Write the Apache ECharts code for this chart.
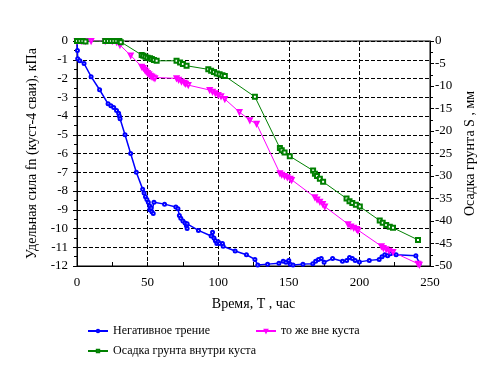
<!DOCTYPE html>
<html><head><meta charset="utf-8">
<script src="https://cdn.jsdelivr.net/npm/echarts@6/dist/echarts.min.js"></script>
<style>html,body{margin:0;padding:0;background:#fff}#c{width:488px;height:366px}</style>
</head><body><div id="c"></div>
<script>
const blueT = [0,0.3,0.5,2,5,10,16,22,24,26,28,29.5,30,30.5,34,38,42,46.5,47.5,48.5,49.5,50.5,51.5,51.5,52.5,53,54,54.5,62,70,71.5,72.5,73.5,75,76.5,77.5,78,78,86,95,96,97,98,99,100,101,103,103.5,112,120,126,128,135,143,146,148,150,151,153,160,167,169,171,173,175,181,188,191,193,195,197,200,207,214,216,218,220,222,226,240,242.5];
const blueF = [0,-0.5,-0.95,-1.05,-1.2,-1.9,-2.6,-3.35,-3.45,-3.55,-3.7,-3.85,-4.0,-4.15,-5.0,-6.0,-7.0,-7.9,-8.1,-8.3,-8.45,-8.6,-8.8,-9.0,-8.9,-9.1,-9.2,-8.6,-8.7,-8.85,-8.95,-9.3,-9.45,-9.6,-9.7,-9.85,-10.0,-9.75,-10.1,-10.4,-10.2,-10.5,-10.65,-10.8,-10.7,-10.8,-10.8,-10.95,-11.2,-11.4,-11.65,-11.95,-11.9,-11.85,-11.75,-11.8,-11.7,-11.9,-11.95,-11.9,-11.88,-11.75,-11.65,-11.6,-11.8,-11.6,-11.75,-11.7,-11.55,-11.6,-11.7,-11.78,-11.7,-11.65,-11.5,-11.4,-11.45,-11.35,-11.4,-11.45,-11.85];
const pinkT = [0,3,6,10,20,25,28,30.4,38,45.8,47,48,49,50,51,52,53,54,55.2,70.5,72,74,76,77,78.8,94,96,98,100,102,104.7,115,122.4,127.2,143.7,145,147,149,151,152,168.4,170,172,174,175.5,192,194,196,198,199,215.6,217,219,221,223.8,241.5,242.5];
const pinkS = [0,0,0,0,0,0,-0.2,-0.9,-3.2,-5.7,-6,-6.4,-6.8,-7.1,-7.4,-7.7,-7.9,-8.1,-8.3,-8.3,-8.6,-9,-9.3,-9.5,-9.8,-10.9,-11.3,-11.6,-12,-12.3,-12.9,-15.8,-17.6,-18.4,-29.4,-29.7,-30,-30.3,-30.6,-30.9,-34.7,-35.2,-35.7,-36.2,-36.8,-40.7,-41.2,-41.5,-41.8,-42.1,-45.6,-46,-46.3,-46.6,-46.9,-49.5,-49.7];
const greenT = [0,2,4,6,20,22,24,26,28,30,31,45.8,47,48.5,50,51.7,53,54.5,56.4,70.5,73,75,77.6,93,95,97,99,101,103,104.7,126,143.7,145,147,150.7,167.2,168.5,170,172,174.3,190.9,193,195,197.5,200.3,214.4,216.5,219,221.5,223.8,241.5];
const greenS = [0,0,0,-0.1,0,0,0,0,0,0,-0.3,-3.1,-3.3,-3.5,-3.7,-3.85,-4.0,-4.2,-4.4,-4.4,-4.8,-5.1,-5.5,-6.3,-6.6,-6.9,-7.2,-7.4,-7.6,-7.8,-12.4,-23.8,-24.3,-24.8,-25.6,-28.8,-29.5,-30,-30.6,-31.3,-35,-35.6,-36,-36.4,-36.8,-39.9,-40.4,-40.9,-41.3,-41.5,-44.2];
const names = ['Негативное трение','то же вне куста','Осадка грунта внутри куста'];
const xAxisName = 'Время, T , час';
const leftAxisName = 'Удельная сила fn (куст-4 сваи), кПа';
const rightAxisName = 'Осадка грунта S , мм';

const zip = (a,b)=>a.map((v,i)=>[v,b[i]]);
const F = "'Liberation Serif', 'DejaVu Serif', serif";
const txt = {fontFamily:F, fontSize:13, color:'#000'};
const legTxt = {fontFamily:F, fontSize:12, color:'#000'};
const nameTxt = {fontFamily:F, fontSize:14, color:'#000'};
const dash = {color:'#000',width:1,type:'dashed',dashOffset:0};
const chart = echarts.init(document.getElementById('c'));
chart.setOption({
  animation:false,
  backgroundColor:'#fff',
  grid:{left:77,right:58,top:41,bottom:100,show:true,borderColor:'#000',borderWidth:1,backgroundColor:'rgba(0,0,0,0)'},
  legend:[
    {data:[names[0]],left:82,top:320,itemWidth:20,itemHeight:3,itemGap:0,textStyle:legTxt},
    {data:[names[1]],left:250,top:320,itemWidth:20,itemHeight:3,itemGap:0,textStyle:legTxt},
    {data:[names[2]],left:82,top:340,itemWidth:20,itemHeight:3,itemGap:0,textStyle:legTxt}
  ],
  xAxis:{type:'value',min:0,max:250,interval:50,name:xAxisName,nameLocation:'middle',nameGap:31,
    nameTextStyle:nameTxt,
    axisLine:{onZero:false,lineStyle:{color:'#000'}},
    axisTick:{inside:true,length:4,lineStyle:{color:'#000'}},
    minorTick:{show:true,splitNumber:2,length:4,lineStyle:{color:'#000'}},
    axisLabel:{...txt,margin:10},
    splitLine:{show:true,lineStyle:dash}},
  yAxis:[
    {type:'value',min:-12,max:0,interval:1,position:'left',name:leftAxisName,nameLocation:'middle',nameGap:34,nameRotate:90,
      nameTextStyle:nameTxt,
      axisLine:{onZero:false,show:true,lineStyle:{color:'#000'}},
      axisTick:{show:true,length:4,lineStyle:{color:'#000'}},
      minorTick:{show:true,splitNumber:2,length:3,lineStyle:{color:'#000'}},
      axisLabel:{...txt,margin:9},
      splitLine:{show:true,lineStyle:dash}},
    {type:'value',min:-50,max:0,interval:5,position:'right',name:rightAxisName,nameLocation:'middle',nameGap:33,nameRotate:90,
      nameTextStyle:nameTxt,
      axisLine:{onZero:false,show:true,lineStyle:{color:'#000'}},
      axisTick:{show:true,length:4,lineStyle:{color:'#000'}},
      minorTick:{show:true,splitNumber:2,length:3,lineStyle:{color:'#000'}},
      axisLabel:{...txt,margin:5},
      splitLine:{show:false}}
  ],
  series:[
    {name:names[0],type:'line',yAxisIndex:0,data:zip(blueT,blueF),color:'#0000ff',z:3,
      symbol:'emptyCircle',symbolSize:3,lineStyle:{width:1.5,color:'#0000ff'},itemStyle:{color:'#0000ff',borderWidth:1}},
    {name:names[1],type:'line',yAxisIndex:1,data:zip(pinkT,pinkS),color:'#ff00ff',z:3,
      symbol:'emptyTriangle',symbolRotate:180,symbolSize:4,lineStyle:{width:1,color:'#ff00ff'},itemStyle:{color:'#ff00ff',borderWidth:1}},
    {name:names[2],type:'line',yAxisIndex:1,data:zip(greenT,greenS),color:'#008000',z:3,
      symbol:'emptyRect',symbolSize:4,lineStyle:{width:1,color:'#008000'},itemStyle:{color:'#008000',borderWidth:1}}
  ]
});
</script></body></html>
